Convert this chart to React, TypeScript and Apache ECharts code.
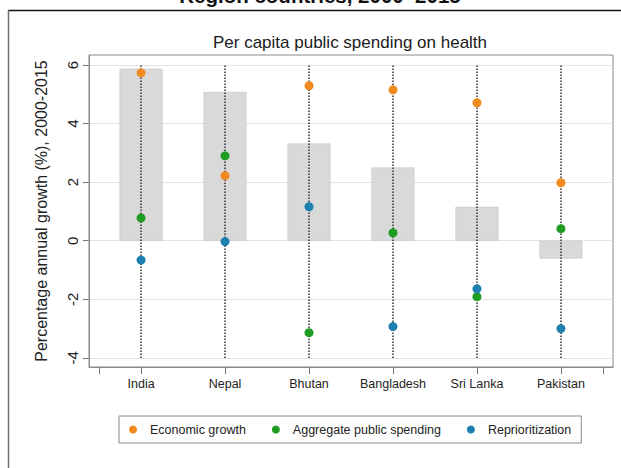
import React, { useEffect, useRef } from "react";
import * as echarts from "echarts";

// Per capita public spending on health: decomposition of annual growth, 2000-2015
const countries = ["India", "Nepal", "Bhutan", "Bangladesh", "Sri Lanka", "Pakistan"];
const totalGrowth = [5.87, 5.08, 3.32, 2.5, 1.16, -0.61];
const economicGrowth = [5.73, 2.22, 5.29, 5.15, 4.71, 1.98];
const aggregateSpending = [0.78, 2.9, -3.14, 0.27, -1.91, 0.41];
const reprioritization = [-0.66, -0.03, 1.16, -2.93, -1.64, -3.0];
const yTicks = [-4, -2, 0, 2, 4, 6];
const xTicks = [-0.5, 0, 1, 2, 3, 4, 5, 5.5];
const seriesNames = ["Economic growth", "Aggregate public spending", "Reprioritization"];

const FONT = "'Liberation Sans', Arial, sans-serif";
const COLORS = ["#f18a1e", "#1f9c22", "#1d80ae"];

export default function App() {
  const ref = useRef<HTMLDivElement>(null);

  useEffect(() => {
    if (!ref.current) return;
    const chart = echarts.init(ref.current, null, { renderer: "svg" });

    const xIdx = countries.map((_, i) => i);
    const toPoints = (vals: number[]) => vals.map((v, i) => [xIdx[i], v]);

    chart.setOption({
      animation: false,
      backgroundColor: "#ffffff",
      textStyle: { fontFamily: FONT },
      graphic: [
        {
          type: "text",
          x: 320,
          y: 6,
          style: {
            text: "Region countries, 2000–2015",
            fontFamily: FONT,
            fontWeight: "bold",
            fontSize: 20.5,
            fill: "#111",
            textAlign: "center",
            textVerticalAlign: "bottom",
          },
        },
        {
          type: "line",
          shape: { x1: 8, y1: 10.5, x2: 621, y2: 10.5 },
          style: { stroke: "#111", lineWidth: 1.5 },
        },
        {
          type: "line",
          shape: { x1: 8.5, y1: 10, x2: 8.5, y2: 468 },
          style: { stroke: "#6f6f6f", lineWidth: 1.5 },
        },
        {
          type: "text",
          x: 350,
          y: 42,
          style: {
            text: "Per capita public spending on health",
            fontFamily: FONT,
            fontSize: 17,
            fill: "#1a1a1a",
            textAlign: "center",
            textVerticalAlign: "middle",
          },
        },
      ],
      grid: {
        left: 89,
        right: 8,
        top: 55,
        bottom: 101,
        show: true,
        borderColor: "#8a8a8a",
        borderWidth: 1,
        containLabel: false,
      },
      legend: {
        data: seriesNames,
        left: 119,
        top: 416,
        icon: "circle",
        itemWidth: 24,
        itemHeight: 8,
        itemGap: 26,
        padding: [7, 10, 7, 10],
        borderColor: "#8a8a8a",
        borderWidth: 1,
        textStyle: { fontFamily: FONT, fontSize: 12.5, color: "#222" },
      },
      xAxis: {
        type: "value",
        min: -0.62,
        max: 5.62,
        axisLine: { show: true, onZero: false, lineStyle: { color: "#8a8a8a" } },
        axisTick: {
          show: true,
          length: 7,
          customValues: xTicks,
          lineStyle: { color: "#777" },
        },
        axisLabel: {
          customValues: xIdx,
          margin: 10,
          fontSize: 12.5,
          color: "#222",
          fontFamily: FONT,
          formatter: (v: number) => countries[Math.round(v)] ?? "",
        },
        splitLine: { show: false },
      },
      yAxis: {
        type: "value",
        min: -4.31,
        max: 6.34,
        name: "Percentage annual growth (%), 2000-2015",
        nameLocation: "middle",
        nameGap: 40,
        nameTextStyle: { fontFamily: FONT, fontSize: 16, color: "#222" },
        axisLine: { show: true, onZero: false, lineStyle: { color: "#8a8a8a" } },
        axisTick: {
          show: true,
          length: 6,
          customValues: yTicks,
          lineStyle: { color: "#777" },
        },
        axisLabel: {
          customValues: yTicks,
          rotate: 90,
          margin: 9,
          fontSize: 15,
          color: "#222",
          fontFamily: FONT,
          formatter: (v: number) => String(Math.round(v)),
        },
        splitLine: { show: true, lineStyle: { color: "#e2e2e2", width: 1 } },
      },
      series: [
        {
          type: "bar",
          name: "Total",
          data: toPoints(totalGrowth),
          barWidth: 43,
          itemStyle: { color: "#d9d9d9", borderColor: "#c6c6c6", borderWidth: 0.6 },
          markLine: {
            silent: true,
            symbol: ["none", "none"],
            label: { show: false },
            lineStyle: { type: [1.5, 1.5], color: "#333", width: 1.5 },
            data: xIdx.map((i) => [{ coord: [i, yTicks[0]] }, { coord: [i, yTicks[yTicks.length - 1]] }]),
          },
        },
        ...[economicGrowth, aggregateSpending, reprioritization].map((vals, k) => ({
          type: "scatter",
          name: seriesNames[k],
          data: toPoints(vals),
          symbolSize: 9,
          z: 10,
          itemStyle: { color: COLORS[k], opacity: 1 },
        })),
      ],
    });

    return () => chart.dispose();
  }, []);

  return (
    <div
      ref={ref}
      style={{ position: "fixed", left: 0, top: 0, width: 621, height: 468 }}
    />
  );
}
